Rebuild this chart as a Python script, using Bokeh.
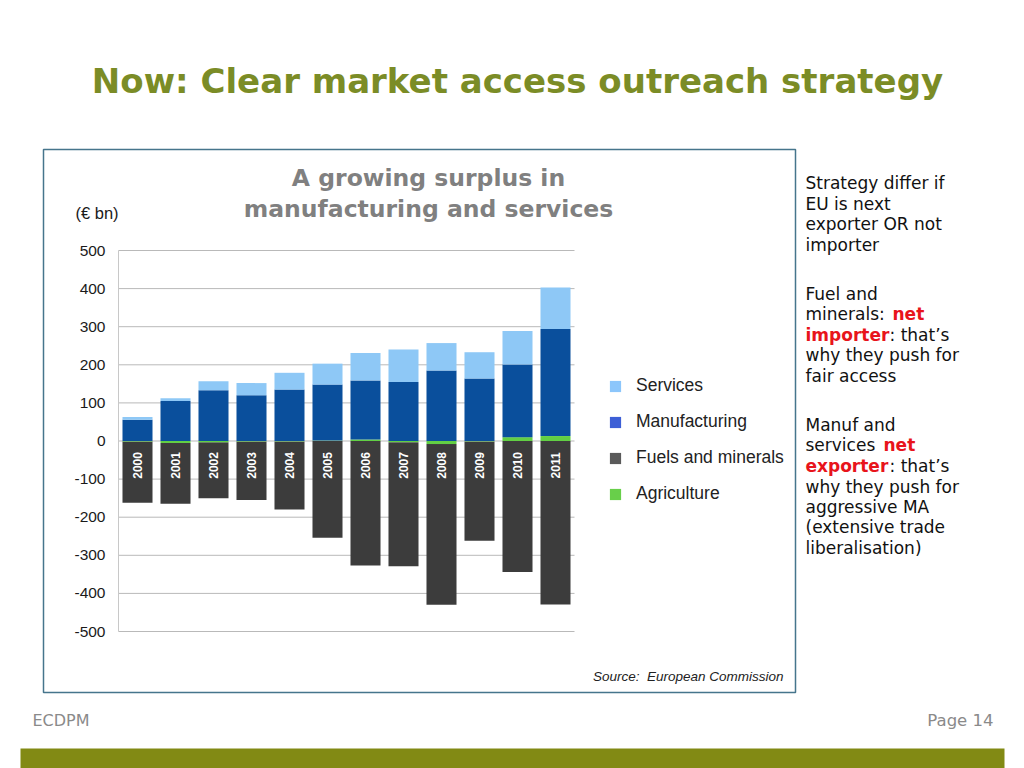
import numpy as np
from bokeh.plotting import figure
from bokeh.models import (Range1d, Label, Legend, LegendItem, LinearAxis,
                          BoxAnnotation, FixedTicker)
from bokeh.core.properties import value
from bokeh.embed import file_html
from bokeh.resources import INLINE

# ---------------- data (EUR bn) ----------------
years = ["2000", "2001", "2002", "2003", "2004", "2005",
         "2006", "2007", "2008", "2009", "2010", "2011"]
services = [7, 7, 24, 32, 44, 55, 72, 85, 72, 69, 88, 109]
manufacturing = [56, 105, 133, 120, 135, 147, 155, 155, 185, 164, 191, 281]
fuels_minerals = [-161, -160, -147, -154, -179, -254, -327, -326, -422, -261, -344, -429]
agriculture = [-1, -5, -3, -1, -1, 1, 4, -3, -8, -1, 10, 13]
y_ticks = [-500, -400, -300, -200, -100, 0, 100, 200, 300, 400, 500]

series_names = ["Services", "Manufacturing", "Fuels and minerals", "Agriculture"]
bar_colors = ["#8ec8f6", "#0a4f9c", "#3c3c3c", "#62cf44"]
legend_colors = ["#8cc6fb", "#3d5fd6", "#5a5a5a", "#68cf4a"]

# ---------------- stacking ----------------
n = len(years)
xpos = np.arange(n) + 0.5
agri = np.array(agriculture, dtype=float)
agri_pos = np.clip(agri, 0, None)
agri_neg = np.clip(agri, None, 0)
mfg_top = agri_pos + np.array(manufacturing, dtype=float)
serv_top = mfg_top + np.array(services, dtype=float)
fuel_bottom = agri_neg + np.array(fuels_minerals, dtype=float)

# ---------------- layout (page pixels) ----------------
W, H = 1024, 768
PL, PR = 118, 574      # plot area left/right
PT, PB = 250, 631      # plot area top/bottom (y=500 / y=-500)
ymin, ymax = -500, 500
xu = (PR - PL) / n                 # px per category
yu = (PB - PT) / (ymax - ymin)     # px per unit

p = figure(width=W, height=H, x_range=Range1d(0, W), y_range=Range1d(H, 0),
           x_axis_type=None, y_axis_type=None, output_backend="svg",
           toolbar_location=None, min_border=0)
p.background_fill_color = "white"
p.border_fill_color = "white"
p.outline_line_color = None
p.grid.visible = False

p.extra_x_ranges = {"chart": Range1d(-PL / xu, n + (W - PR) / xu)}
p.extra_y_ranges = {"chart": Range1d(ymin - (H - PB) / yu, ymax + PT / yu)}

# horizontal gridlines across the plot area
p.segment(x0=[0] * len(y_ticks), x1=[n] * len(y_ticks), y0=y_ticks, y1=y_ticks,
          x_range_name="chart", y_range_name="chart",
          line_color="#b9b9b9", line_width=1)

# y axis fixed at the left edge of the plot area
yax = LinearAxis(x_range_name="chart", y_range_name="chart", fixed_location=0,
                 bounds=(ymin, ymax), ticker=FixedTicker(ticks=y_ticks),
                 major_label_overrides={t: str(t) for t in y_ticks},
                 axis_line_color="#c8c8c8", major_tick_line_color=None,
                 major_tick_out=0, major_tick_in=0,
                 minor_tick_line_color=None,
                 major_label_text_font="Liberation Sans",
                 major_label_text_font_size="15.5px",
                 major_label_text_color="#1a1a1a", major_label_standoff=13)
p.add_layout(yax, "left")

bw = 0.79
kw = dict(x_range_name="chart", y_range_name="chart", width=bw, line_color=None)
p.vbar(x=xpos, bottom=fuel_bottom, top=agri_neg, fill_color=bar_colors[2], **kw)
p.vbar(x=xpos, bottom=agri_neg, top=agri_pos, fill_color=bar_colors[3], **kw)
p.vbar(x=xpos, bottom=agri_pos, top=mfg_top, fill_color=bar_colors[1], **kw)
p.vbar(x=xpos, bottom=mfg_top, top=serv_top, fill_color=bar_colors[0], **kw)

p.text(x=xpos, y=[-64] * n, text=years, angle=np.pi / 2,
       x_range_name="chart", y_range_name="chart",
       text_color="white", text_font=value("Liberation Sans"),
       text_font_style="bold", text_font_size="12px",
       text_align="center", text_baseline="middle")

# legend with its own swatch colours (zero-height proxy bars)
items = []
for name, col in zip(series_names, legend_colors):
    r = p.vbar(x=[0], bottom=[0], top=[0], width=0.8, fill_color=col,
               line_color=None, x_range_name="chart", y_range_name="chart")
    items.append(LegendItem(label=name, renderers=[r]))
legend = Legend(items=items, location=(608, H - 504), orientation="vertical",
                glyph_width=14, glyph_height=14, label_height=14, spacing=15,
                padding=0, margin=0, label_standoff=14,
                label_text_font="Liberation Sans", label_text_font_size="17.5px",
                label_text_color="#222222", border_line_color=None,
                background_fill_alpha=0)
p.add_layout(legend, "center")


def lab(x, y, text, size, color="#111111", font="DejaVu Sans", style="normal",
        align="left", baseline="middle"):
    p.add_layout(Label(x=x, y=y, text=text, text_font=font,
                       text_font_size=size, text_color=color,
                       text_font_style=style, text_align=align,
                       text_baseline=baseline))


# chart frame box and footer bar
p.add_layout(BoxAnnotation(left=43, right=795, top=149, bottom=692,
                           fill_alpha=0, line_color="#46758c", line_alpha=1,
                           line_width=1.5))
p.add_layout(BoxAnnotation(left=20, right=1004, top=748, bottom=768,
                           fill_color="#828a14", fill_alpha=1, line_color=None))

# slide title
lab(517, 80, "Now: Clear market access outreach strategy", "34px",
    color="#7b8c26", style="bold", align="center")

# chart title
lab(428, 177, "A growing surplus in", "23.5px", color="#808080", style="bold",
    align="center")
lab(428, 208, "manufacturing and services", "23.5px", color="#808080",
    style="bold", align="center")
lab(75, 212, "(€ bn)", "16.5px", color="#1a1a1a", font="Liberation Sans")
lab(783, 676, "Source:\u00a0 European Commission", "13.5px", color="#222222",
    font="Liberation Sans", style="italic", align="right")

# right-hand text
RED = "#e8141b"
TX = 805
lines = [
    (182, [("Strategy differ if", None)]),
    (203, [("EU is next", None)]),
    (223, [("exporter OR not", None)]),
    (244, [("importer", None)]),
    (293, [("Fuel and", None)]),
    (313, [("minerals:", None), ("net", 892)]),
    (334, [("importer", None), (": that’s", 889)]),
    (354, [("why they push for", None)]),
    (375, [("fair access", None)]),
    (424, [("Manuf and", None)]),
    (444, [("services", None), ("net", 883)]),
    (465, [("exporter", None), (": that’s", 889)]),
    (486, [("why they push for", None)]),
    (506, [("aggressive MA", None)]),
    (526, [("(extensive trade", None)]),
    (547, [("liberalisation)", None)]),
]
red_words = {("minerals:", "net"), ("importer", "importer"),
             ("services", "net"), ("exporter", "exporter")}
for y, segs in lines:
    first = segs[0][0]
    for txt, xx in segs:
        is_red = (first, txt) in red_words and len(segs) > 1
        lab(TX if xx is None else xx, y, txt, "17px",
            color=RED if is_red else "#111111",
            style="bold" if is_red else "normal")

# footer
lab(32, 720, "ECDPM", "16px", color="#8a8a8a", font="DejaVu Sans")
lab(993, 720, "Page 14", "16.5px", color="#8a8a8a", font="DejaVu Sans",
    align="right")

open("out.html", "w").write(file_html(p, INLINE))
